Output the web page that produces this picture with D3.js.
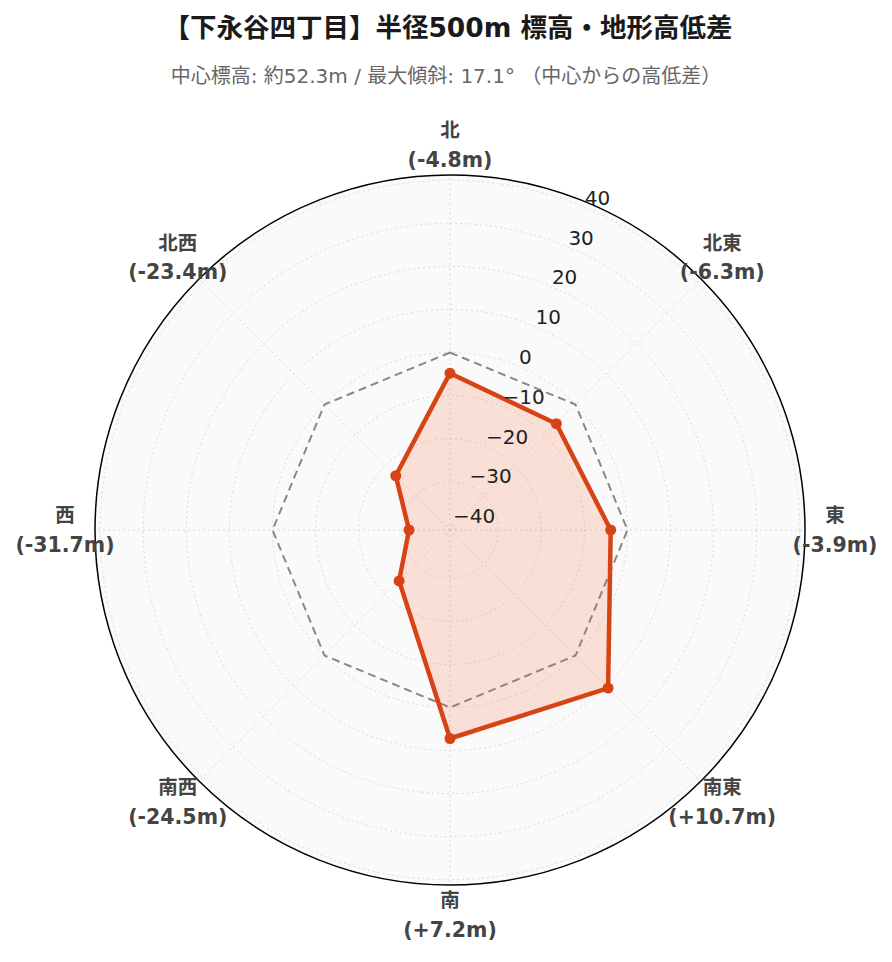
<!DOCTYPE html>
<html>
<head>
<meta charset="utf-8">
<script src="https://cdn.jsdelivr.net/npm/d3@7"></script>
<style>
  html, body { margin: 0; padding: 0; background: #ffffff; }
  svg { display: block; }
</style>
</head>
<body>
<svg id="chart" width="892" height="962"></svg>
<script>
// ---- data ----
const directions = ["北", "北東", "東", "南東", "南", "南西", "西", "北西"];
const elevationDiffs = [-4.8, -6.3, -3.9, 10.7, 7.2, -24.5, -31.7, -23.4];
const referenceValues = [0, 0, 0, 0, 0, 0, 0, 0];
const radialTicks = [-40, -30, -20, -10, 0, 10, 20, 30, 40];
const radialMax = 41.21;
const titleText = "【下永谷四丁目】半径500m 標高・地形高低差";
const subtitleText = "中心標高: 約52.3m / 最大傾斜: 17.1° （中心からの高低差）";

// ---- layout ----
const W = 892, H = 962;
const cx = 450, cy = 530, R = 355;
const fontFamily = "'DejaVu Sans', 'Noto Sans CJK JP', sans-serif";
const lineColor = "#d84315";
const fillColor = "#ff5722";

const svg = d3.select("#chart").attr("font-family", fontFamily);

const r = d3.scaleLinear().domain([-radialMax, radialMax]).range([0, R]);
const angle = d3.scaleLinear().domain([0, directions.length]).range([0, 2 * Math.PI]);

// title
svg.append("text")
  .attr("x", W / 2 + 2).attr("y", 27)
  .attr("text-anchor", "middle").attr("dominant-baseline", "central")
  .attr("font-size", 26.5).attr("font-weight", "bold").attr("fill", "#1a1a1a")
  .text(titleText);
svg.append("text")
  .attr("x", W / 2).attr("y", 76)
  .attr("text-anchor", "middle").attr("dominant-baseline", "central")
  .attr("font-size", 20).attr("fill", "#666")
  .text(subtitleText);

const g = svg.append("g").attr("transform", `translate(${cx},${cy})`);

// background disc
g.append("circle").attr("r", R).attr("fill", "#fafafa");

// grid circles
g.selectAll(".gridc").data(radialTicks).join("circle")
  .attr("r", d => r(d))
  .attr("fill", "none").attr("stroke", "#d8d8d8")
  .attr("stroke-width", 1).attr("stroke-dasharray", "2,3");

// spokes
g.selectAll(".spoke").data(directions).join("line")
  .attr("x1", 0).attr("y1", 0)
  .attr("x2", (d, i) => R * Math.sin(angle(i)))
  .attr("y2", (d, i) => -R * Math.cos(angle(i)))
  .attr("stroke", "#d8d8d8").attr("stroke-width", 1).attr("stroke-dasharray", "2,3");

// reference polygon (0 m)
const radial = d3.lineRadial()
  .angle((d, i) => angle(i))
  .radius(d => r(d))
  .curve(d3.curveLinearClosed);

g.append("path").datum(referenceValues)
  .attr("d", radial)
  .attr("fill", "none").attr("stroke", "#888")
  .attr("stroke-width", 2).attr("stroke-dasharray", "8,5");

// data polygon
g.append("path").datum(elevationDiffs)
  .attr("d", radial)
  .attr("fill", fillColor).attr("fill-opacity", 0.16)
  .attr("stroke", lineColor).attr("stroke-width", 4.5)
  .attr("stroke-linejoin", "round");

g.selectAll(".pt").data(elevationDiffs).join("circle")
  .attr("cx", (d, i) => r(d) * Math.sin(angle(i)))
  .attr("cy", (d, i) => -r(d) * Math.cos(angle(i)))
  .attr("r", 5.5).attr("fill", lineColor);

// outer circle
g.append("circle").attr("r", R).attr("fill", "none")
  .attr("stroke", "#000").attr("stroke-width", 1.5);

// radial tick labels along 22.5° from north
const tickAng = Math.PI / 8;
const fmt = d3.format("d");
g.selectAll(".rt").data(radialTicks).join("text")
  .attr("x", d => r(d) * Math.sin(tickAng) + 1)
  .attr("y", d => -r(d) * Math.cos(tickAng) - 9)
  .attr("dominant-baseline", "central")
  .attr("font-size", 20).attr("fill", "#222")
  .text(d => fmt(d));

// angular labels
const fmtDiff = v => "(" + (v > 0 ? "+" : "") + v.toFixed(1) + "m)";
const labelR = 385;
const lab = g.selectAll(".al").data(directions).join("g")
  .attr("transform", (d, i) => `translate(${labelR * Math.sin(angle(i))},${-labelR * Math.cos(angle(i))})`);
lab.append("text")
  .attr("y", -14.5).attr("text-anchor", "middle").attr("dominant-baseline", "central")
  .attr("font-size", 19.5).attr("font-weight", "bold").attr("fill", "#444")
  .text(d => d);
lab.append("text")
  .attr("y", 14.5).attr("text-anchor", "middle").attr("dominant-baseline", "central")
  .attr("font-size", 20.5).attr("font-weight", "bold").attr("fill", "#444")
  .text((d, i) => fmtDiff(elevationDiffs[i]));
</script>
</body>
</html>
